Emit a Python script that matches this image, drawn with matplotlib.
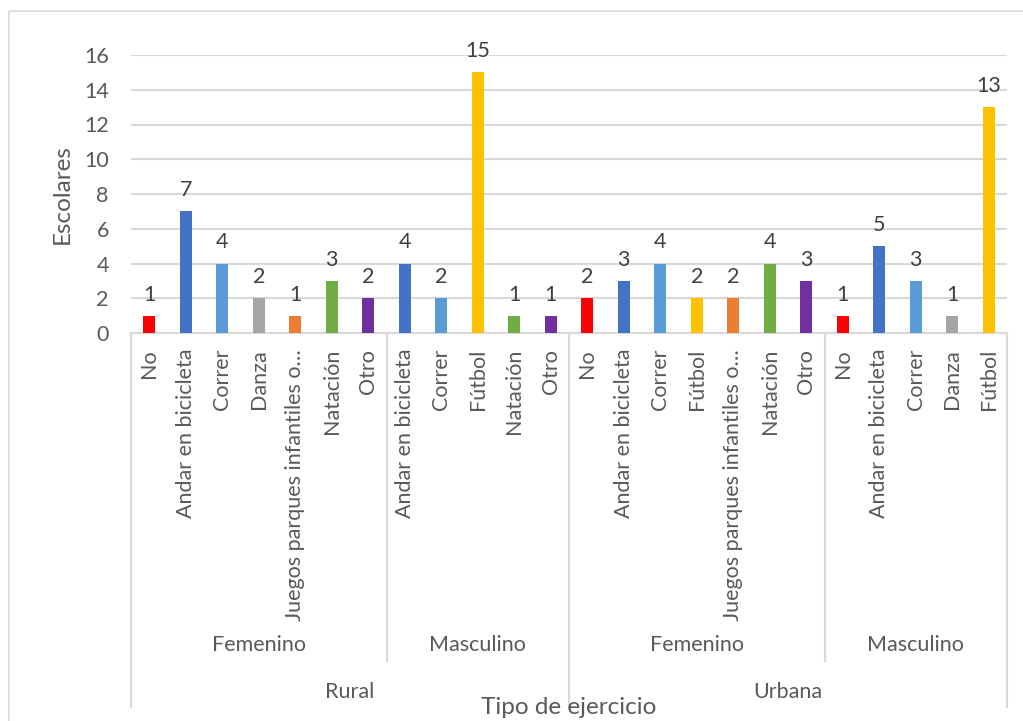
import matplotlib
matplotlib.use("Agg")
import matplotlib.pyplot as plt
import matplotlib.transforms as mtransforms
from matplotlib.patches import Rectangle

plt.rcParams['font.family'] = ['Lato', 'DejaVu Sans']

# Data
zones = ["Rural", "Urbana"]
sexes = ["Femenino", "Masculino"]
activities_rural_fem = ["No", "Andar en bicicleta", "Correr", "Danza",
                        "Juegos parques infantiles o…", "Natación", "Otro"]
values_rural_fem = [1, 7, 4, 2, 1, 3, 2]
activities_rural_masc = ["Andar en bicicleta", "Correr", "Fútbol", "Natación", "Otro"]
values_rural_masc = [4, 2, 15, 1, 1]
activities_urb_fem = ["No", "Andar en bicicleta", "Correr", "Fútbol",
                      "Juegos parques infantiles o…", "Natación", "Otro"]
values_urb_fem = [2, 3, 4, 2, 2, 4, 3]
activities_urb_masc = ["No", "Andar en bicicleta", "Correr", "Danza", "Fútbol"]
values_urb_masc = [1, 5, 3, 1, 13]

activity_colors = {
    "No": "#FF0000",
    "Andar en bicicleta": "#4472C4",
    "Correr": "#5B9BD5",
    "Danza": "#A5A5A5",
    "Juegos parques infantiles o…": "#ED7D31",
    "Natación": "#70AD47",
    "Otro": "#7030A0",
    "Fútbol": "#FFC000",
}

groups = [
    ("Rural", "Femenino", activities_rural_fem, values_rural_fem),
    ("Rural", "Masculino", activities_rural_masc, values_rural_masc),
    ("Urbana", "Femenino", activities_urb_fem, values_urb_fem),
    ("Urbana", "Masculino", activities_urb_masc, values_urb_masc),
]

labels, values, colors = [], [], []
for _, _, acts, vals in groups:
    labels += acts
    values += vals
    colors += [activity_colors[a] for a in acts]

W, H = 1023, 721
fig = plt.figure(figsize=(W / 100, H / 100), dpi=100)

def fx(px):
    return px / W

def fy(py):
    return 1 - py / H

TXT = "#595959"
FS = 15.5

# Chart frame
fig.patches.append(Rectangle((fx(9), fy(760)), fx(1040) - fx(9), fy(11) - fy(760),
                             transform=fig.transFigure, fill=False,
                             edgecolor="#D9D9D9", linewidth=1.2))

ax = fig.add_axes([fx(131), fy(333), fx(1007) - fx(131), fy(55) - fy(333)])
n = len(values)
x = list(range(n))
ax.bar(x, values, width=0.33, color=colors, zorder=3)
ax.set_xlim(-0.5, n - 0.5)
ax.set_ylim(0, 16)
ax.set_yticks(range(0, 17, 2))
ax.yaxis.grid(True, color="#D9D9D9", linewidth=1.5, zorder=0)
ax.set_axisbelow(True)
for s in ["top", "right", "left"]:
    ax.spines[s].set_visible(False)
ax.spines["bottom"].set_color("#D9D9D9")
ax.spines["bottom"].set_linewidth(1.5)
ax.tick_params(axis="y", length=0, labelsize=FS, labelcolor=TXT, pad=16)
ax.set_xticks([])

for xi, v in zip(x, values):
    ax.annotate(str(v), (xi, v), xytext=(0, 8), textcoords="offset points",
                ha="center", va="bottom", fontsize=FS, color="#404040")

ax.set_ylabel("Escolares", fontsize=17.5, color=TXT, labelpad=8)

blend = mtransforms.blended_transform_factory(ax.transData, fig.transFigure)
sep_kw = dict(color="#D9D9D9", linewidth=1.5, transform=blend, clip_on=False)

# Activity labels
for xi, lab in zip(x, labels):
    fig.text(xi, fy(349), lab, transform=blend, rotation=90, ha="center", va="top",
             fontsize=FS, color=TXT)

# Group separators and labels
start = 0
zone_bounds = {}
for zone, sex, acts, _ in groups:
    end = start + len(acts)
    fig.lines.append(plt.Line2D([start - 0.5, start - 0.5], [fy(333), fy(661)], **sep_kw))
    fig.text((start + end - 1) / 2, fy(645), sex, transform=blend, ha="center", va="center",
             fontsize=FS, color=TXT)
    zb = zone_bounds.setdefault(zone, [start, end])
    zb[1] = end
    start = end

for zone, (s, e) in zone_bounds.items():
    fig.lines.append(plt.Line2D([s - 0.5, s - 0.5], [fy(333), fy(707)], **sep_kw))
    fig.text((s + e - 1) / 2, fy(692), zone, transform=blend, ha="center", va="center",
             fontsize=FS, color=TXT)
fig.lines.append(plt.Line2D([n - 0.5, n - 0.5], [fy(333), fy(707)], **sep_kw))

fig.text((n - 1) / 2, fy(707), "Tipo de ejercicio", transform=blend, ha="center",
         va="center", fontsize=17.5, color=TXT)

fig.savefig("out.png", dpi=100)
